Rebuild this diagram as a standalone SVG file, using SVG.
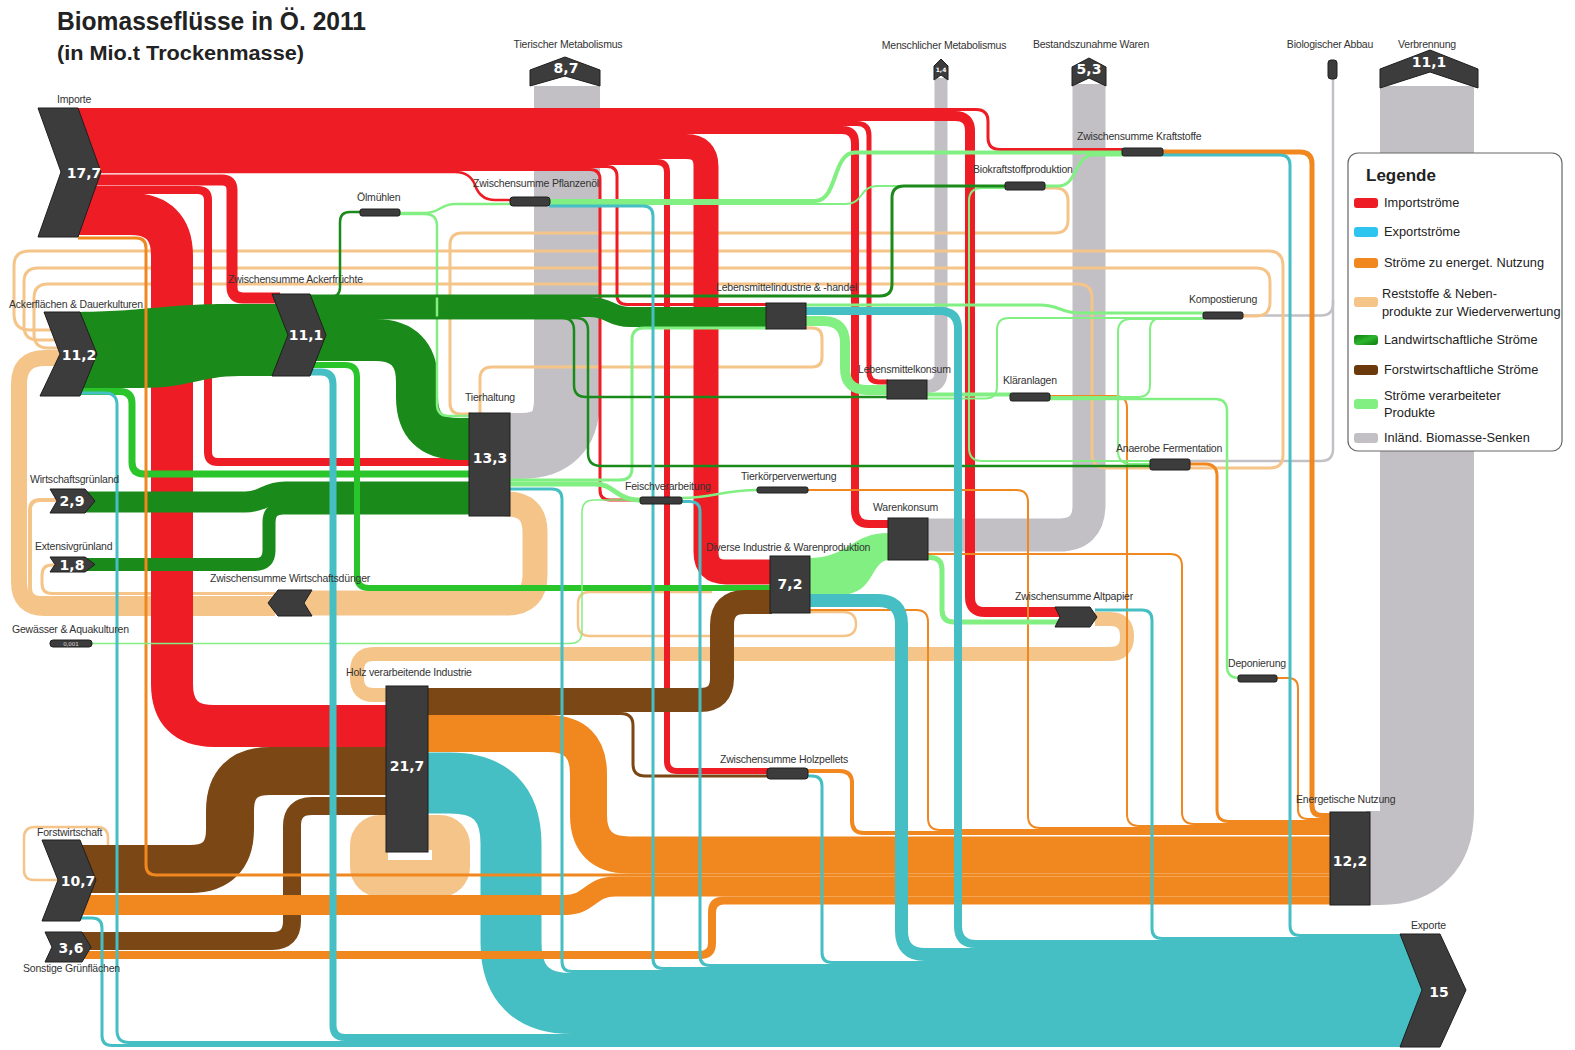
<svg xmlns="http://www.w3.org/2000/svg" width="1575" height="1050" viewBox="0 0 1575 1050">
<defs>
<linearGradient id="lgG" x1="0" y1="0" x2="1" y2="1"><stop offset="0" stop-color="#0f7a0f"/><stop offset="0.5" stop-color="#2db52d"/><stop offset="1" stop-color="#0f7a0f"/></linearGradient>
</defs>
<style>
.f{fill:none;stroke-linecap:butt;stroke-linejoin:round}
.imp{stroke:#ee1c25}
.exp{stroke:#45bfc4}
.en{stroke:#f0871f}
.res{stroke:#f5c489}
.agr{stroke:#1a8a1a}
.agb{stroke:#2ac52a}
.for{stroke:#7b4714}
.prd{stroke:#82ef82}
.snk{stroke:#c2c0c5}
.nd{fill:#3c3c3c;stroke:#1e1e1e;stroke-width:1}
.lb{font-family:"Liberation Sans",Arial,sans-serif;font-size:10.5px;fill:#333;letter-spacing:-0.2px}
.v{font-family:"DejaVu Sans",sans-serif;font-weight:bold;font-size:14px;fill:#fff;text-anchor:middle}
.lg{font-family:"Liberation Sans",Arial,sans-serif;font-size:12.8px;fill:#222}
</style>
<rect width="1575" height="1050" fill="#fff"/>
<text x="57" y="30" font-family="Liberation Sans,Arial,sans-serif" font-weight="bold" font-size="25" fill="#222" textLength="309" lengthAdjust="spacingAndGlyphs">Biomasseflüsse in Ö. 2011</text>
<text x="57" y="60" font-family="Liberation Sans,Arial,sans-serif" font-weight="bold" font-size="20" fill="#222" textLength="247" lengthAdjust="spacingAndGlyphs">(in Mio.t Trockenmasse)</text>

<g id="connectors">
<g id="sinks">
<path class="f snk" stroke-width="66" d="M567 86 V400 Q567 446 521 446 H505"/>
<path class="f snk" stroke-width="13" d="M941 78 V372 Q941 386.5 926.5 386.5 H922"/>
<path class="f snk" stroke-width="33" d="M924 535 H1059 Q1089 535 1089 505 V84"/>
<path class="f snk" stroke-width="94" d="M1366 858 H1380 Q1427 858 1427 811 V86"/>
<path class="f snk" stroke-width="2.5" d="M1243 315.5 H1321 Q1333 315.5 1333 303.5 V78"/>
<path class="f snk" stroke-width="2.5" d="M1190 461 H1321 Q1333 461 1333 449 V300"/>
</g>
<g id="residues">
<path class="f res" stroke-width="25" d="M505 504 H507 Q535 504 535 532 V575 Q535 603 507 603 H300"/>
<path class="f res" stroke-width="16" d="M275 608 H45 Q19 608 19 582 V384 Q19 358 45 358 H62"/>
<path class="f res" stroke-width="4" d="M275 598 H40 Q30 598 30 588 V510 Q30 500 40 500 H56"/>
<path class="f res" stroke-width="3" d="M275 593.5 H52 Q42 593.5 42 583.5 V575 Q42 565 52 565 H58"/>
<path class="f res" stroke-width="3" d="M62 330 H30 Q14 330 14 314 V266 Q14 251 29 251 H1268 Q1283 251 1283 266 V455 Q1283 468 1270 468 H1190"/>
<path class="f res" stroke-width="3" d="M62 340 H38 Q24 340 24 326 V282 Q24 268 38 268 H1256 Q1270 268 1270 282 V302 Q1270 316 1256 316 H1243"/>
<path class="f res" stroke-width="3" d="M62 348 H48 Q34 348 34 334 V298 Q34 284 48 284 H1078 Q1092 284 1092 298 V454 Q1092 468 1106 468 H1151"/>
<path class="f res" stroke-width="3" d="M1045 188 H1055 Q1068 188 1068 201 V220 Q1068 233 1055 233 H462 Q450 233 450 245 V403 Q450 414 461 414 H472"/>
<path class="f res" stroke-width="3" d="M806 328 H812 Q822 328 822 338 V357 Q822 367 812 367 H492 Q480 367 480 379 V414"/>
<path class="f res" stroke-width="14" d="M1095 619 H1110 Q1127 619 1127 636 V637 Q1127 654 1110 654 H374 Q357 654 357 671 V678 Q357 695 374 695 H390"/>
<path class="f res" stroke-width="2.5" d="M62 880 H34 Q24 880 24 870 V838 Q24 827 35 827 H97 Q108 827 108 838 V848"/>
<path class="f res" stroke-width="2.5" d="M810 612 H843 Q856 612 856 624 Q856 636 843 636 H590 Q578 636 578 624 V604 Q578 592 590 592 H712"/>
</g>
<g id="export-main">
<path class="f exp" stroke-width="61" d="M425 783 H450 Q511 783 511 844 V942.5 Q511 1003.5 572 1003.5 H1425"/>
</g>
<rect x="350" y="815" width="120" height="82" rx="30" fill="#f5c489"/>
<rect x="388" y="850" width="44" height="10" fill="#fff"/>
<g id="imports">
<path class="f imp" stroke-width="3" d="M75 109.5 H976 Q988 109.5 988 121.5 V137.5 Q988 149.5 1000 149.5 H1123"/>
<path class="f imp" stroke-width="10" d="M75 116 H955 Q970 116 970 131 V597 Q970 612 985 612 H1060"/>
<path class="f imp" stroke-width="5" d="M75 123.5 H857 Q869 123.5 869 135.5 V372 Q869 382 879 382 H888"/>
<path class="f imp" stroke-width="8" d="M75 130 H842 Q855 130 855 143 V510 Q855 524 869 524 H889"/>
<path class="f imp" stroke-width="25" d="M75 146.5 H686 Q706 146.5 706 166.5 V552 Q706 572 726 572 H772"/>
<path class="f imp" stroke-width="6" d="M75 162 H657 Q667 162 667 172 V761 Q667 771 677 771 H769"/>
<path class="f imp" stroke-width="3" d="M75 166.5 H607 Q617 166.5 617 176.5 V295 Q617 304.5 627 304.5 H768"/>
<path class="f imp" stroke-width="3" d="M75 169.5 H590 Q600 169.5 600 179.5 V490 Q600 500 610 500 H641"/>
<path class="f imp" stroke-width="2.5" d="M75 172 H455 Q470 172 475 185 Q480 200 495 200 H511"/>
<path class="f imp" stroke-width="11" d="M75 180 H222 Q232 180 232 190 V287 Q232 298 243 298 H280"/>
<path class="f imp" stroke-width="8" d="M75 190 H198 Q208 190 208 200 V452 Q208 462 218 462 H472"/>
<path class="f imp" stroke-width="42" d="M75 214 H130 Q172 214 172 256 V684 Q172 726 214 726 H388"/>
</g>
<g id="agriculture">
<path fill="#1a8a1a" d="M62 312 C150 312 160 304 230 304 L290 304 L290 376 L240 376 C200 376 190 388 140 388 L62 388 Z"/>
<path class="f agr" stroke-width="20" d="M300 307 H590 C610 307 610 317 630 317 H770"/>
<path class="f agr" stroke-width="42" d="M300 340 H375 Q417 340 417 382 V397 Q417 439 459 439 H472"/>
<path class="f agr" stroke-width="21" d="M75 502 H245 C265 502 265 492 285 492 H472"/>
<path class="f agr" stroke-width="13" d="M75 564.5 H255 Q269 564.5 269 550.5 V522 Q269 508 283 508 H472"/>
<path class="f agb" stroke-width="7" d="M70 391.5 H120 Q132 391.5 132 403.5 V462 Q132 474 144 474 H472"/>
<path class="f agb" stroke-width="6" d="M305 365 H345 Q357 365 357 377 V576 Q357 588 369 588 H772"/>
</g>
<g id="forestry">
<path class="f for" stroke-width="48" d="M75 869 H190 Q230 869 230 829 V811 Q230 771 270 771 H388"/>
<path class="f for" stroke-width="18" d="M75 941 H272 Q292 941 292 921 V826 Q292 806 312 806 H388"/>
<path class="f for" stroke-width="24" d="M425 700 H700 Q722 700 722 678 V625 Q722 602 745 602 H772"/>
<path class="f for" stroke-width="3" d="M425 713.5 H621 Q633 713.5 633 725.5 V764 Q633 776 645 776 H769"/>
</g>
<g id="energy">
<path class="f en" stroke-width="37" d="M425 733.5 H548 Q588.5 733.5 588.5 774 V815 Q588.5 855 629 855 H1332"/>
<path class="f en" stroke-width="20" d="M75 905 H565 C590 905 590 886.5 615 886.5 H1332"/>
<path class="f en" stroke-width="8" d="M75 955 H700 Q712 955 712 943 V912.5 Q712 900.5 724 900.5 H1332"/>
<path class="f en" stroke-width="4" d="M806 771 H840 Q852 771 852 783 V821 Q852 833 864 833 H1332"/>
<path class="f en" stroke-width="2" d="M810 610 H916 Q928 610 928 622 V818 Q928 830 940 830 H1332"/>
<path class="f en" stroke-width="2" d="M807 490 H1016 Q1028 490 1028 502 V816 Q1028 828 1040 828 H1332"/>
<path class="f en" stroke-width="2" d="M1049 396 H1115 Q1127 396 1127 408 V814 Q1127 826 1139 826 H1332"/>
<path class="f en" stroke-width="2" d="M927 554 H1170 Q1182 554 1182 566 V812 Q1182 824 1194 824 H1332"/>
<path class="f en" stroke-width="3" d="M1189 464 H1205 Q1217 464 1217 476 V809.5 Q1217 821.5 1229 821.5 H1332"/>
<path class="f en" stroke-width="2" d="M1276 678 H1288 Q1298 678 1298 688 V809 Q1298 819 1308 819 H1332"/>
<path class="f en" stroke-width="5" d="M1162 152 H1300 Q1312 152 1312 164 V805.5 Q1312 815.5 1322 815.5 H1332"/>
<path class="f en" stroke-width="3" d="M78 238 H136 Q146 238 146 248 V865 Q146 875 156 875 H1332"/>
</g>
<g id="products">
<path fill="#82ef82" d="M808 558 C850 558 850 533 889 533 L889 560 C876 560 874 578 862 588 C848 598 830 596 808 596 Z"/>
<path class="f prd" stroke-width="2.5" d="M399 213 H425 C440 213 440 204 455 204 H511"/>
<path class="f prd" stroke-width="2.5" d="M399 214 H425 Q437 214 437 226 V404 Q437 416 449 416 H472"/>
<path class="f prd" stroke-width="4" d="M549 201 H815 C838 201 832 152.5 855 152.5 H1123"/>
<path class="f prd" stroke-width="2" d="M549 204 H845 C865 204 858 186 878 186 H1006"/>
<path class="f prd" stroke-width="3" d="M1044 186 H1058 C1078 186 1074 155 1094 155 H1123"/>
<path class="f prd" stroke-width="10" d="M805 321 H823 Q845 321 845 343 V368 Q845 390 867 390 H888"/>
<path class="f prd" stroke-width="4" d="M926 394.5 H1011"/>
<path class="f prd" stroke-width="3" d="M805 305 H1040 C1060 305 1060 313 1080 313 H1204"/>
<path class="f prd" stroke-width="2" d="M926 398.5 H985 Q997 398.5 997 386.5 V330 Q997 318 1009 318 H1204"/>
<path class="f prd" stroke-width="2.5" d="M1049 399 H1215 Q1227 399 1227 411 V666 Q1227 678 1239 678"/>
<path class="f prd" stroke-width="5" d="M508 484 H595 C615 484 615 500 641 500"/>
<path class="f prd" stroke-width="3" d="M508 480 H620 Q632 480 632 468 V340 Q632 328 644 328 H767"/>
<path class="f prd" stroke-width="2.5" d="M681 498 C715 498 722 490 758 490"/>
<path class="f prd" stroke-width="5" d="M927 557.5 H930 Q942 557.5 942 569.5 V610 Q942 622 954 622 H1058"/>
<path class="f prd" stroke-width="1.5" d="M90 643.5 H570 Q582 643.5 582 631.5 V512 Q582 500 594 500 H641"/>
<path class="f prd" stroke-width="2" d="M1006 188 H982 Q969 188 969 201 V448 Q969 461 982 461 H1151"/>
<path class="f prd" stroke-width="2" d="M1049 397 H1138 Q1150 397 1150 385 V330 Q1150 318 1162 318 H1204"/>
<path class="f prd" stroke-width="2" d="M1204 319 H1131 Q1118 319 1118 332 V451 Q1118 464 1131 464 H1151"/>
</g>
<g id="agri-thin">
<path class="f agr" stroke-width="2.5" d="M318 297 H330 Q340 297 340 287 V222 Q340 212 350 212 H361"/>
<path class="f agr" stroke-width="3" d="M300 296 H880 Q892 296 892 284 V198 Q892 186 904 186 H1006"/>
<path class="f agr" stroke-width="2.5" d="M300 318 H562 Q574 318 574 330 V385 Q574 397 586 397 H888"/>
<path class="f agr" stroke-width="2.5" d="M300 318 H576 Q588 318 588 330 V453 Q588 466 601 466 H1151"/>
</g>
<g id="exports">
<path class="f exp" stroke-width="7" d="M305 372 H321 Q333 372 333 384 V1025.5 Q333 1037.5 345 1037.5 H1425"/>
<path class="f exp" stroke-width="3" d="M70 393 H105 Q117 393 117 405 V1030.5 Q117 1042.5 129 1042.5 H1425"/>
<path class="f exp" stroke-width="3" d="M75 918 H92 Q102 918 102 928 V1035.5 Q102 1045.5 112 1045.5 H1425"/>
<path class="f exp" stroke-width="3" d="M508 489 H552 Q562 489 562 499 V961.5 Q562 971.5 572 971.5 H1425"/>
<path class="f exp" stroke-width="3" d="M549 206 H643 Q653 206 653 216 V958.5 Q653 968.5 663 968.5 H1425"/>
<path class="f exp" stroke-width="3" d="M681 501.5 H690 Q700 501.5 700 511.5 V955.5 Q700 965.5 710 965.5 H1425"/>
<path class="f exp" stroke-width="3" d="M806 776 H812 Q822 776 822 786 V952.5 Q822 962.5 832 962.5 H1425"/>
<path class="f exp" stroke-width="13" d="M808 600.5 H878 Q901.5 600.5 901.5 624 V931 Q901.5 954.5 925 954.5 H1425"/>
<path class="f exp" stroke-width="8" d="M805 311 H940 Q958 311 958 329 V926 Q958 944 976 944 H1425"/>
<path class="f exp" stroke-width="3" d="M1095 610 H1142 Q1152 610 1152 620 V928.5 Q1152 938.5 1162 938.5 H1425"/>
<path class="f exp" stroke-width="3" d="M1162 155 H1280 Q1290 155 1290 165 V925.5 Q1290 935.5 1300 935.5 H1425"/>
</g>
</g>

<g id="nodes">
<g id="n-importe"><polygon class="nd" points="38,108 78,108 101,172 78,237 38,237 61,172"/><text class="v" x="84" y="178">17,7</text><text class="lb" x="57" y="103">Importe</text></g>
<g id="n-ackerflaechen"><polygon class="nd" points="44,312 80,312 97,354 80,396 40,396 60,354"/><text class="v" x="79" y="360">11,2</text><text class="lb" x="9" y="308">Ackerflächen &amp; Dauerkulturen</text></g>
<g id="n-ackerfruechte"><polygon class="nd" points="272,294 310,294 326,335 310,376 272,376 288,335"/><text class="v" x="306" y="340">11,1</text><text class="lb" x="228" y="283">Zwischensumme Ackerfrüchte</text></g>
<g id="n-tierhaltung"><rect class="nd" x="469" y="413" width="41" height="103"/><text class="v" x="490" y="463">13,3</text><text class="lb" x="465" y="401">Tierhaltung</text></g>
<g id="n-wgl"><polygon class="nd" points="50,489 85,489 95,501 85,513 50,513 57,501"/><text class="v" x="72" y="506" font-size="13">2,9</text><text class="lb" x="30" y="483">Wirtschaftsgrünland</text></g>
<g id="n-egl"><polygon class="nd" points="50,557 85,557 95,564.5 85,572 50,572 55,564.5"/><text class="v" x="72" y="569.5" font-size="12">1,8</text><text class="lb" x="35" y="550">Extensivgrünland</text></g>
<g id="n-wdueng"><polygon class="nd" points="278,590 312,590 304,603 312,616 278,616 268,603"/><text class="lb" x="210" y="582">Zwischensumme Wirtschaftsdünger</text></g>
<g id="n-gewaesser"><rect class="nd" x="50" y="640" width="42" height="7" rx="3"/><text x="71" y="646" font-family="DejaVu Sans,sans-serif" font-size="5.5" fill="#ddd" text-anchor="middle">0,001</text><text class="lb" x="12" y="633">Gewässer &amp; Aquakulturen</text></g>
<g id="n-holz"><rect class="nd" x="386" y="686" width="42" height="166"/><text class="v" x="407" y="771">21,7</text><text class="lb" x="346" y="676">Holz verarbeitende Industrie</text></g>
<g id="n-forst"><polygon class="nd" points="42,840 80,840 96,880 80,921 42,921 58,880"/><text class="v" x="78" y="886">10,7</text><text class="lb" x="37" y="836">Forstwirtschaft</text></g>
<g id="n-sonstige"><polygon class="nd" points="45,932 82,932 91,947 82,962 45,962 52,947"/><text class="v" x="71" y="953">3,6</text><text class="lb" x="23" y="972">Sonstige Grünflächen</text></g>
<g id="n-diverse"><rect class="nd" x="770" y="556" width="40" height="57"/><text class="v" x="790" y="589">7,2</text><text class="lb" x="706" y="551">Diverse Industrie &amp; Warenproduktion</text></g>
<g id="n-warenkonsum"><rect class="nd" x="888" y="518" width="40" height="42"/><text class="lb" x="873" y="511">Warenkonsum</text></g>
<g id="n-lmi"><rect class="nd" x="766" y="303" width="40" height="26"/><text class="lb" x="716" y="291">Lebensmittelindustrie &amp; -handel</text></g>
<g id="n-lmk"><rect class="nd" x="887" y="380" width="40" height="19"/><text class="lb" x="858" y="373">Lebensmittelkonsum</text></g>
<g id="n-klaer"><rect class="nd" x="1010" y="393" width="40" height="8" rx="2"/><text class="lb" x="1003" y="384">Kläranlagen</text></g>
<g id="n-feisch"><rect class="nd" x="640" y="497" width="42" height="7" rx="2"/><text class="lb" x="625" y="490">Feischverarbeitung</text></g>
<g id="n-tierkoerper"><rect class="nd" x="757" y="487" width="51" height="6" rx="2"/><text class="lb" x="741" y="480">Tierkörperverwertung</text></g>
<g id="n-pflanzenoel"><rect class="nd" x="510" y="197" width="40" height="9" rx="3"/><text class="lb" x="473" y="187">Zwischensumme Pflanzenöl</text></g>
<g id="n-oelmuehlen"><rect class="nd" x="360" y="209" width="40" height="7" rx="2"/><text class="lb" x="357" y="201">Ölmühlen</text></g>
<g id="n-biokraft"><rect class="nd" x="1005" y="182" width="40" height="8" rx="2"/><text class="lb" x="973" y="173">Biokraftstoffproduktion</text></g>
<g id="n-kraftstoffe"><rect class="nd" x="1122" y="148" width="41" height="8" rx="2"/><text class="lb" x="1077" y="140">Zwischensumme Kraftstoffe</text></g>
<g id="n-kompost"><rect class="nd" x="1203" y="312" width="40" height="7" rx="2"/><text class="lb" x="1189" y="303">Kompostierung</text></g>
<g id="n-anaerob"><rect class="nd" x="1150" y="459" width="40" height="11" rx="2"/><text class="lb" x="1116" y="452">Anaerobe Fermentation</text></g>
<g id="n-altpapier"><polygon class="nd" points="1055,607 1090,607 1097,617 1090,627 1055,627 1060,617"/><text class="lb" x="1015" y="600">Zwischensumme Altpapier</text></g>
<g id="n-deponie"><rect class="nd" x="1238" y="675" width="39" height="7" rx="2"/><text class="lb" x="1228" y="667">Deponierung</text></g>
<g id="n-holzpellets"><rect class="nd" x="767" y="768" width="41" height="11" rx="3"/><text class="lb" x="720" y="763">Zwischensumme Holzpellets</text></g>
<g id="n-energie"><rect class="nd" x="1330" y="812" width="40" height="93"/><text class="v" x="1350" y="866">12,2</text><text class="lb" x="1296" y="803">Energetische Nutzung</text></g>
<g id="n-exporte"><polygon class="nd" points="1400,934 1440,934 1466,990 1440,1047 1400,1047 1422,990"/><text class="v" x="1439" y="997">15</text><text class="lb" x="1411" y="929">Exporte</text></g>
<g id="n-tiermeta"><polygon class="nd" points="530,70 565,57 600,70 600,86 565,76 530,86"/><text class="v" x="566" y="73">8,7</text><text class="lb" x="568" y="48" text-anchor="middle">Tierischer Metabolismus</text></g>
<g id="n-menschmeta"><polygon class="nd" points="934,66 941,59 948,66 948,80 941,75 934,80"/><text x="941" y="72" font-family="DejaVu Sans,sans-serif" font-size="6" font-weight="bold" fill="#fff" text-anchor="middle">1,4</text><text class="lb" x="944" y="49" text-anchor="middle">Menschlicher Metabolismus</text></g>
<g id="n-bestand"><polygon class="nd" points="1072,67 1089,58 1106,67 1106,86 1089,78 1072,86"/><text class="v" x="1089" y="74">5,3</text><text class="lb" x="1091" y="48" text-anchor="middle">Bestandszunahme Waren</text></g>
<g id="n-bioabbau"><rect class="nd" x="1328" y="60" width="9" height="19" rx="3"/><text class="lb" x="1330" y="48" text-anchor="middle">Biologischer Abbau</text></g>
<g id="n-verbrennung"><polygon class="nd" points="1380,69 1430,50 1478,69 1478,88 1430,72 1380,88"/><text class="v" x="1429" y="67">11,1</text><text class="lb" x="1427" y="48" text-anchor="middle">Verbrennung</text></g>
</g>

<g id="legend">
<rect x="1348" y="153" width="214" height="298" rx="10" fill="#fff" stroke="#666" stroke-width="1.2"/>
<text x="1366" y="181" font-family="Liberation Sans,Arial,sans-serif" font-weight="bold" font-size="17" fill="#222">Legende</text>
<rect x="1354" y="198" width="24" height="10" rx="3" fill="#ee1c25"/><text class="lg" x="1384" y="207">Importströme</text>
<rect x="1354" y="227" width="24" height="10" rx="3" fill="#2ec4f0"/><text class="lg" x="1384" y="236">Exportströme</text>
<rect x="1354" y="258" width="24" height="10" rx="3" fill="#f0871f"/><text class="lg" x="1384" y="267">Ströme zu energet. Nutzung</text>
<rect x="1354" y="297" width="24" height="10" rx="3" fill="#f5c489"/><text class="lg" x="1382" y="298">Reststoffe &amp; Neben-</text><text class="lg" x="1382" y="316">produkte zur Wiederverwertung</text>
<rect x="1354" y="335" width="24" height="10" rx="3" fill="url(#lgG)"/><text class="lg" x="1384" y="344">Landwirtschaftliche Ströme</text>
<rect x="1354" y="365" width="24" height="10" rx="3" fill="#6b3a0c"/><text class="lg" x="1384" y="374">Forstwirtschaftliche Ströme</text>
<rect x="1354" y="399" width="24" height="10" rx="3" fill="#82ef82"/><text class="lg" x="1384" y="400">Ströme verarbeiteter</text><text class="lg" x="1384" y="417">Produkte</text>
<rect x="1354" y="433" width="24" height="10" rx="3" fill="#c2c0c5"/><text class="lg" x="1384" y="442">Inländ. Biomasse-Senken</text>
</g>
</svg>
